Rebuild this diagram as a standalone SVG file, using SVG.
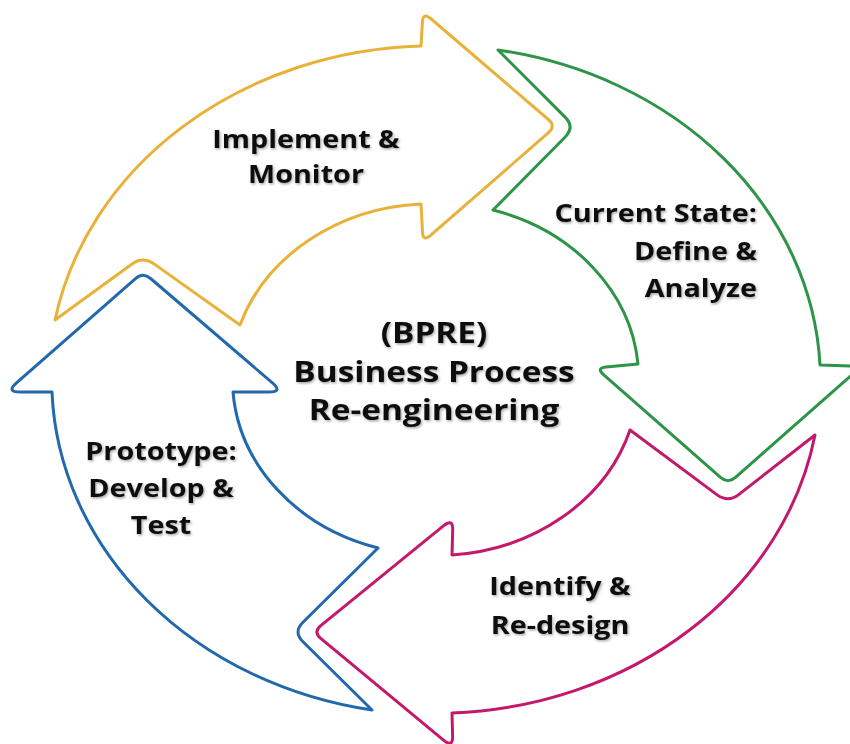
<svg xmlns="http://www.w3.org/2000/svg" width="850" height="744" viewBox="0 0 850 744">
  <defs>
    <filter id="sh" x="-10%" y="-20%" width="120%" height="140%">
      <feDropShadow dx="1" dy="1.5" stdDeviation="1.2" flood-color="#000" flood-opacity="0.35"/>
    </filter>
  </defs>
  <style>
    .arrow { fill: #ffffff; stroke-width: 3; stroke-linejoin: round; }
    .yellow { stroke: #E8B23A; }
    .green { stroke: #2E9447; }
    .magenta { stroke: #C4186B; }
    .blue { stroke: #2268AD; }
    .lbl { font-family: "Open Sans", "Noto Sans", "Liberation Sans", sans-serif; font-weight: bold; font-size: 25px; fill: #111111; filter: url(#sh); }
    .ctr { font-size: 29px; }
  </style>
  <rect x="0" y="0" width="850" height="744" fill="#ffffff"/>

  <g id="node-implement">
    <path class="arrow yellow" d="M 55 320 A 385 335 0 0 1 421 46 L 422.4 22 Q 423 12 430.6 18.5 L 548.4 119.5 Q 556 126 548.5 132.6 L 430.5 235.4 Q 423 242 422.5 232 L 421 204 A 202 176 0 0 0 240 325 L 154.4 264.1 Q 143 256 131.7 264.2 Z"/>
    <g transform="translate(306,0) scale(1.15,1)">
      <text class="lbl" x="0" y="148" text-anchor="middle">Implement &amp;</text>
      <text class="lbl" x="0" y="183" text-anchor="middle">Monitor</text>
    </g>
  </g>

  <g id="node-current-state">
    <path class="arrow green" d="M 498 50 A 385 335 0 0 1 820 365 L 852 366 Q 862 366 854.5 372.6 L 735.5 477.4 Q 728 484 720.5 477.4 L 603.5 374.6 Q 596 368 606 367 L 638 364 A 202 176 0 0 0 493 210 L 565.2 137 Q 575 127 565.1 117.1 Z"/>
    <g transform="translate(757,0) scale(1.15,1)">
      <text class="lbl" x="0" y="222" text-anchor="end">Current State:</text>
      <text class="lbl" x="0" y="260" text-anchor="end">Define &amp;</text>
      <text class="lbl" x="0" y="297" text-anchor="end">Analyze</text>
    </g>
  </g>

  <g id="node-identify">
    <path class="arrow magenta" d="M 815 435 A 385 335 0 0 1 452 713 L 452.6 736 Q 453 748 443.8 740.3 L 320.7 638.4 Q 313 632 320.8 625.7 L 443.7 525.6 Q 453 518 452.7 530 L 452 555 A 202 176 0 0 0 630 430 L 716.8 494.6 Q 728 503 739 494.4 Z"/>
    <g transform="translate(560,0) scale(1.15,1)">
      <text class="lbl" x="0" y="595" text-anchor="middle">Identify &amp;</text>
      <text class="lbl" x="0" y="634" text-anchor="middle">Re-design</text>
    </g>
  </g>

  <g id="node-prototype">
    <path class="arrow blue" d="M 372 710 A 385 335 0 0 1 52 392 L 20 392 Q 6 392 16.5 382.8 L 135.5 278.6 Q 143 272 150.6 278.5 L 272.4 382.9 Q 283 392 269 392 L 233 392 A 202 176 0 0 0 378 548 L 303 622.2 Q 293 632 303 641.8 Z"/>
    <g transform="translate(161,0) scale(1.15,1)">
      <text class="lbl" x="0" y="460" text-anchor="middle">Prototype:</text>
      <text class="lbl" x="0" y="497" text-anchor="middle">Develop &amp;</text>
      <text class="lbl" x="0" y="534" text-anchor="middle">Test</text>
    </g>
  </g>

  <g id="node-center">
    <g transform="translate(434,0) scale(1.15,1)">
      <text class="lbl ctr" x="0" y="343" text-anchor="middle">(BPRE)</text>
      <text class="lbl ctr" x="0" y="382" text-anchor="middle">Business Process</text>
      <text class="lbl ctr" x="0" y="420" text-anchor="middle">Re-engineering</text>
    </g>
  </g>

  <g id="connectors"></g>
</svg>
